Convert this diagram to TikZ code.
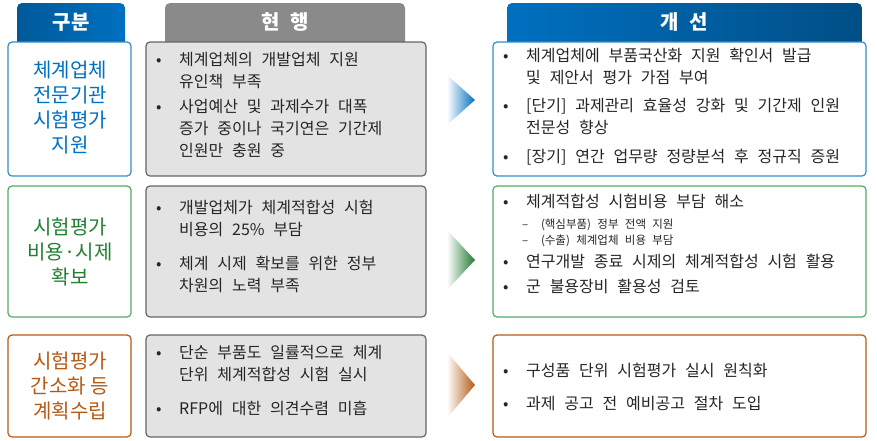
\documentclass[tikz,border=0pt]{standalone}
\usepackage{fontspec}
\setmainfont{Noto Sans CJK KR}
\newcommand{\wsp}{\spaceskip 0.55em plus 0.1em\relax}
\newcommand{\hsp}{\spaceskip 0.5em\relax}
\begin{document}
\begin{tikzpicture}[x=1pt,y=-1pt,
  lbox/.style={draw,rounded corners=4pt,line width=1.2pt,fill=white},
  mbox/.style={draw=gray!80!black,rounded corners=4pt,line width=1.2pt,fill=gray!22},
  rbox/.style={draw,rounded corners=4pt,line width=1.2pt,fill=white},
  ltxt/.style={align=center,font={\fontsize{20}{25}\selectfont}},
  btxt/.style={align=left,anchor=north west,font={\fontsize{16}{22}\selectfont\wsp},text=black!85,inner sep=0pt},
  stxt/.style={align=left,anchor=north west,font={\fontsize{11.5}{16}\selectfont\wsp},text=black!85,inner sep=0pt},
  hdr/.style={font={\bfseries\fontsize{20}{22}\selectfont\hsp},text=white}]
\useasboundingbox (0,0) rectangle (877,440);
\definecolor{cb}{RGB}{0,112,192}\definecolor{cg}{RGB}{40,150,60}\definecolor{co}{RGB}{180,90,20}
% headers
\shade[left color=cb!80!black,right color=cb,rounded corners=5pt] (17,3) rectangle (125,48);
\node[hdr] (h1) at (71,22) {구분};
\fill[gray!85!black!80,rounded corners=5pt] (165,3) rectangle (405,48);
\node[hdr] (h2) at (285,22) {현 행};
\shade[left color=cb,right color=cb!70!black,rounded corners=5pt] (507,3) rectangle (862,48);
\node[hdr] (h3) at (684,22) {개 선};
% row boxes
\draw[lbox,draw=cb!80] (8,42) rectangle (131,176);
\draw[lbox,draw=cg!80] (8,186) rectangle (131,317);
\draw[lbox,draw=co] (8,335) rectangle (131,437);
\draw[mbox] (146,42) rectangle (426,176);
\draw[mbox] (146,186) rectangle (426,317);
\draw[mbox] (146,335) rectangle (426,437);
\draw[rbox,draw=cb!80] (493,42) rectangle (866,176);
\draw[rbox,draw=cg!80] (493,186) rectangle (866,317);
\draw[rbox,draw=co] (493,335) rectangle (866,437);
\node[ltxt,text=cb] (l1) at (70,108) {체계업체\\전문기관\\시험평가\\지원};
\node[ltxt,text=cg!85!black] (l2) at (70,252) {시험평가\\비용·시제\\확보};
\node[ltxt,text=co] (l3) at (70,386) {시험평가\\간소화 등\\계획수립};
% arrows
\shade[left color=white,right color=cb] (447,75) -- (475,100) -- (447,125) -- cycle;
\shade[left color=white,right color=cg!80!black] (447,230) -- (475,260) -- (447,290) -- cycle;
\shade[left color=white,right color=co] (447,352) -- (475,385) -- (447,418) -- cycle;
% middle texts
\node[btxt] (m1) at (156,52) {•\ \ 체계업체의 개발업체 지원\\\phantom{•\ \ }유인책 부족\\[3pt]•\ \ 사업예산 및 과제수가 대폭\\\phantom{•\ \ }증가 중이나 국기연은 기간제\\\phantom{•\ \ }인원만 충원 중};
\node[btxt] (m2) at (156,200) {•\ \ 개발업체가 체계적합성 시험\\\phantom{•\ \ }비용의 25\% 부담\\[12pt]•\ \ 체계 시제 확보를 위한 정부\\\phantom{•\ \ }차원의 노력 부족};
\node[btxt] (m3) at (156,345) {•\ \ 단순 부품도 일률적으로 체계\\\phantom{•\ \ }단위 체계적합성 시험 실시\\[12pt]•\ \ RFP에 대한 의견수렴 미흡};
% right texts
\node[btxt] (r1) at (503,48) {•\ \ 체계업체에 부품국산화 지원 확인서 발급\\\phantom{•\ \ }및 제안서 평가 가점 부여\\[6pt]•\ \ [단기] 과제관리 효율성 강화 및 기간제 인원\\\phantom{•\ \ }전문성 향상\\[7pt]•\ \ [장기] 연간 업무량 정량분석 후 정규직 증원};
\node[btxt] (r2a) at (503,194) {•\ \ 체계적합성 시험비용 부담 해소};
\node[stxt] (r2b) at (522,219) {–\ \ (핵심부품) 정부 전액 지원\\–\ \ (수출) 체계업체 비용 부담};
\node[btxt] (r2c) at (503,254) {•\ \ 연구개발 종료 시제의 체계적합성 시험 활용\\[3pt]•\ \ 군 불용장비 활용성 검토};
\node[btxt] (r3) at (503,363) {•\ \ 구성품 단위 시험평가 실시 원칙화\\[11pt]•\ \ 과제 공고 전 예비공고 절차 도입};
\end{tikzpicture}
\end{document}
